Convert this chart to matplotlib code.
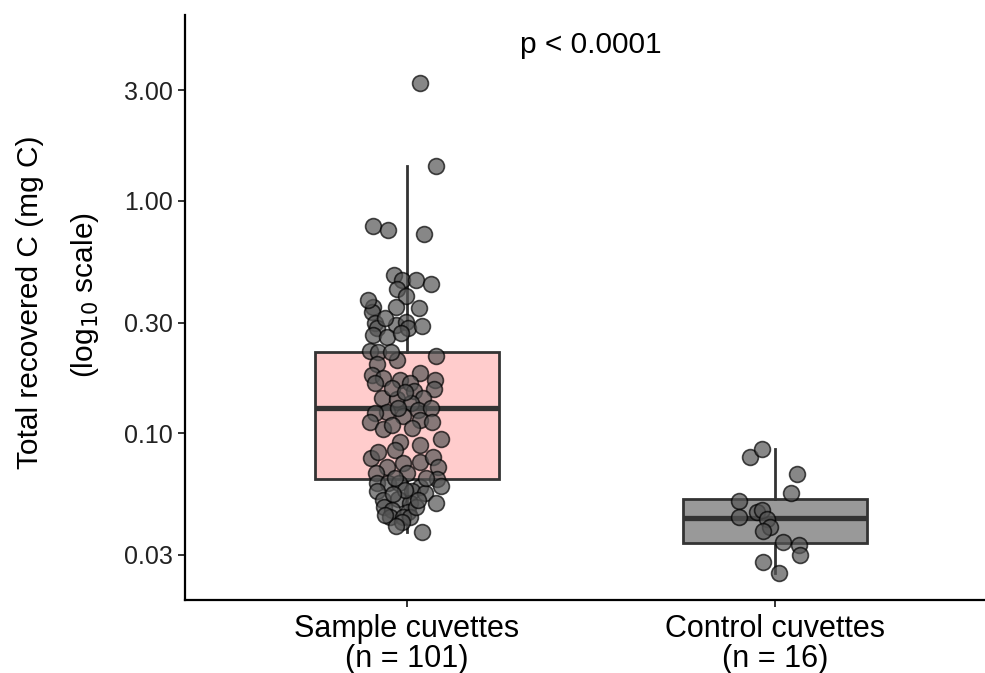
import numpy as np
import matplotlib
matplotlib.use("Agg")
import matplotlib.pyplot as plt
from matplotlib.ticker import FixedLocator, NullLocator

plt.rcParams['font.family'] = ['Liberation Sans', 'DejaVu Sans']

# groups
groups = ['Sample cuvettes\n(n = 101)', 'Control cuvettes\n(n = 16)']
positions = [1, 2]
box_colors = ['#FFCCCC', '#999999']

# box stats (mg C)
q1 = [0.0637, 0.0338]
med = [0.129, 0.0433]
q3 = [0.224, 0.0522]
whislo = [0.0377, 0.0251]
whishi = [1.413, 0.0857]

# sample cuvettes: recovered C (mg C) and jitter offset
sample_vals = [3.22, 1.413, 0.780, 0.750, 0.721, 0.480, 0.457, 0.457, 0.439, 0.418,
               0.390, 0.350, 0.333, 0.350, 0.346, 0.298, 0.284, 0.293, 0.301, 0.284,
               0.290, 0.265, 0.260, 0.270, 0.226, 0.224, 0.207, 0.215, 0.199, 0.178,
               0.173, 0.165, 0.170, 0.182, 0.165, 0.170, 0.155, 0.142, 0.141, 0.152,
               0.142, 0.135, 0.124, 0.122, 0.112, 0.119, 0.126, 0.129, 0.114, 0.112,
               0.1045, 0.0919, 0.0892, 0.0946, 0.0849, 0.0784, 0.0717, 0.0746, 0.0753, 0.0792,
               0.0717, 0.0676, 0.0676, 0.0637, 0.0594, 0.0612, 0.0612, 0.0612, 0.0588, 0.0565,
               0.0565, 0.0554, 0.0517, 0.0522, 0.0502, 0.0502, 0.0483, 0.0468, 0.0459, 0.0437,
               0.0437, 0.0437, 0.0416, 0.0377,
               0.375, 0.314, 0.224, 0.157, 0.151, 0.129, 0.1087, 0.1055, 0.0832, 0.0643,
               0.0571, 0.0549, 0.0483, 0.0400, 0.0446, 0.0643, 0.0517]
sample_jit = [0.035, 0.079, -0.092, -0.052, 0.046, -0.035, -0.014, 0.024, 0.065, -0.027,
              -0.003, -0.092, -0.095, -0.030, 0.033, -0.087, -0.082, -0.030, -0.003, 0.003,
              0.041, -0.092, -0.054, -0.016, -0.101, -0.079, -0.027, 0.079, -0.082, -0.095,
              -0.065, -0.087, -0.019, 0.035, 0.008, 0.076, 0.073, -0.068, -0.027, 0.019,
              0.043, 0.011, -0.054, -0.087, -0.101, -0.011, 0.030, 0.065, 0.035, 0.068,
              -0.065, -0.019, 0.035, 0.092, -0.033, -0.098, -0.054, -0.011, 0.035, 0.071,
              0.084, -0.084, 0.000, 0.082, 0.092, -0.082, -0.052, -0.022, 0.035, -0.082,
              0.014, 0.049, -0.065, -0.024, 0.008, 0.079, -0.063, -0.041, 0.003, -0.046,
              -0.011, 0.008, -0.014, 0.041,
              -0.106, -0.060, -0.043, -0.041, -0.005, -0.024, -0.041, 0.014, -0.079, -0.033,
              -0.005, -0.038, 0.024, -0.030, -0.060, 0.052, 0.030]

# control cuvettes
control_vals = [0.0792, 0.0857, 0.0669, 0.0554, 0.0512, 0.0437, 0.0459, 0.0468,
                0.0428, 0.0396, 0.0380, 0.0341, 0.0331, 0.0300, 0.0280, 0.0251]
control_jit = [-0.068, -0.035, 0.060, 0.043, -0.098, -0.098, -0.049, -0.035,
               -0.022, -0.014, -0.033, 0.022, 0.065, 0.068, -0.033, 0.011]

ytick_vals = [0.03, 0.10, 0.30, 1.00, 3.00]
ytick_labels = ['0.03', '0.10', '0.30', '1.00', '3.00']
p_text = 'p < 0.0001'

fig = plt.figure(figsize=(9.85, 6.73), dpi=100)
ax = fig.add_axes([185 / 985, 73 / 673, 800 / 985, 585 / 673])

stats = []
for i in range(len(groups)):
    stats.append(dict(q1=q1[i], med=med[i], q3=q3[i], whislo=whislo[i], whishi=whishi[i]))

bp = ax.bxp(stats, positions=positions, widths=0.5, patch_artist=True,
            showcaps=False, showfliers=False,
            boxprops=dict(edgecolor='#333333', linewidth=2.0),
            whiskerprops=dict(color='#333333', linewidth=2.0),
            medianprops=dict(color='#333333', linewidth=3.8, solid_capstyle='butt'))
for patch, c in zip(bp['boxes'], box_colors):
    patch.set_facecolor(c)
    patch.set_zorder(1)

pts_kw = dict(s=130, facecolor='#555555', edgecolor='black', linewidths=1.2, alpha=0.7, zorder=3)
ax.scatter(positions[0] + np.array(sample_jit), sample_vals, **pts_kw)
ax.scatter(positions[1] + np.array(control_jit), control_vals, **pts_kw)

ax.set_yscale('log')
ax.set_ylim(0.01921, 6.31)
ax.set_xlim(0.397, 2.571)
ax.yaxis.set_major_locator(FixedLocator(ytick_vals))
ax.yaxis.set_minor_locator(NullLocator())
ax.set_yticklabels(ytick_labels)
ax.set_xticks(positions)
ax.set_xticklabels(groups, linespacing=1.02)

for s in ['top', 'right']:
    ax.spines[s].set_visible(False)
for s in ['left', 'bottom']:
    ax.spines[s].set_linewidth(1.6)
ax.tick_params(axis='both', length=5, width=1.4, color='#333333')
ax.tick_params(axis='y', labelsize=18, pad=4, labelcolor='#222222')
ax.tick_params(axis='x', labelsize=22, pad=5, labelcolor='black')

ax.text(1.5, 4.68, p_text, ha='center', va='center', fontsize=21.5)

fig.text(30 / 985, 1 - 302 / 673, 'Total recovered C (mg C)', rotation=90,
         ha='center', va='center', fontsize=21.5)
fig.text(85 / 985, 1 - 295 / 673, '(log$_{10}$ scale)', rotation=90,
         ha='center', va='center', fontsize=21.5)

fig.savefig('out.png', dpi=100)
